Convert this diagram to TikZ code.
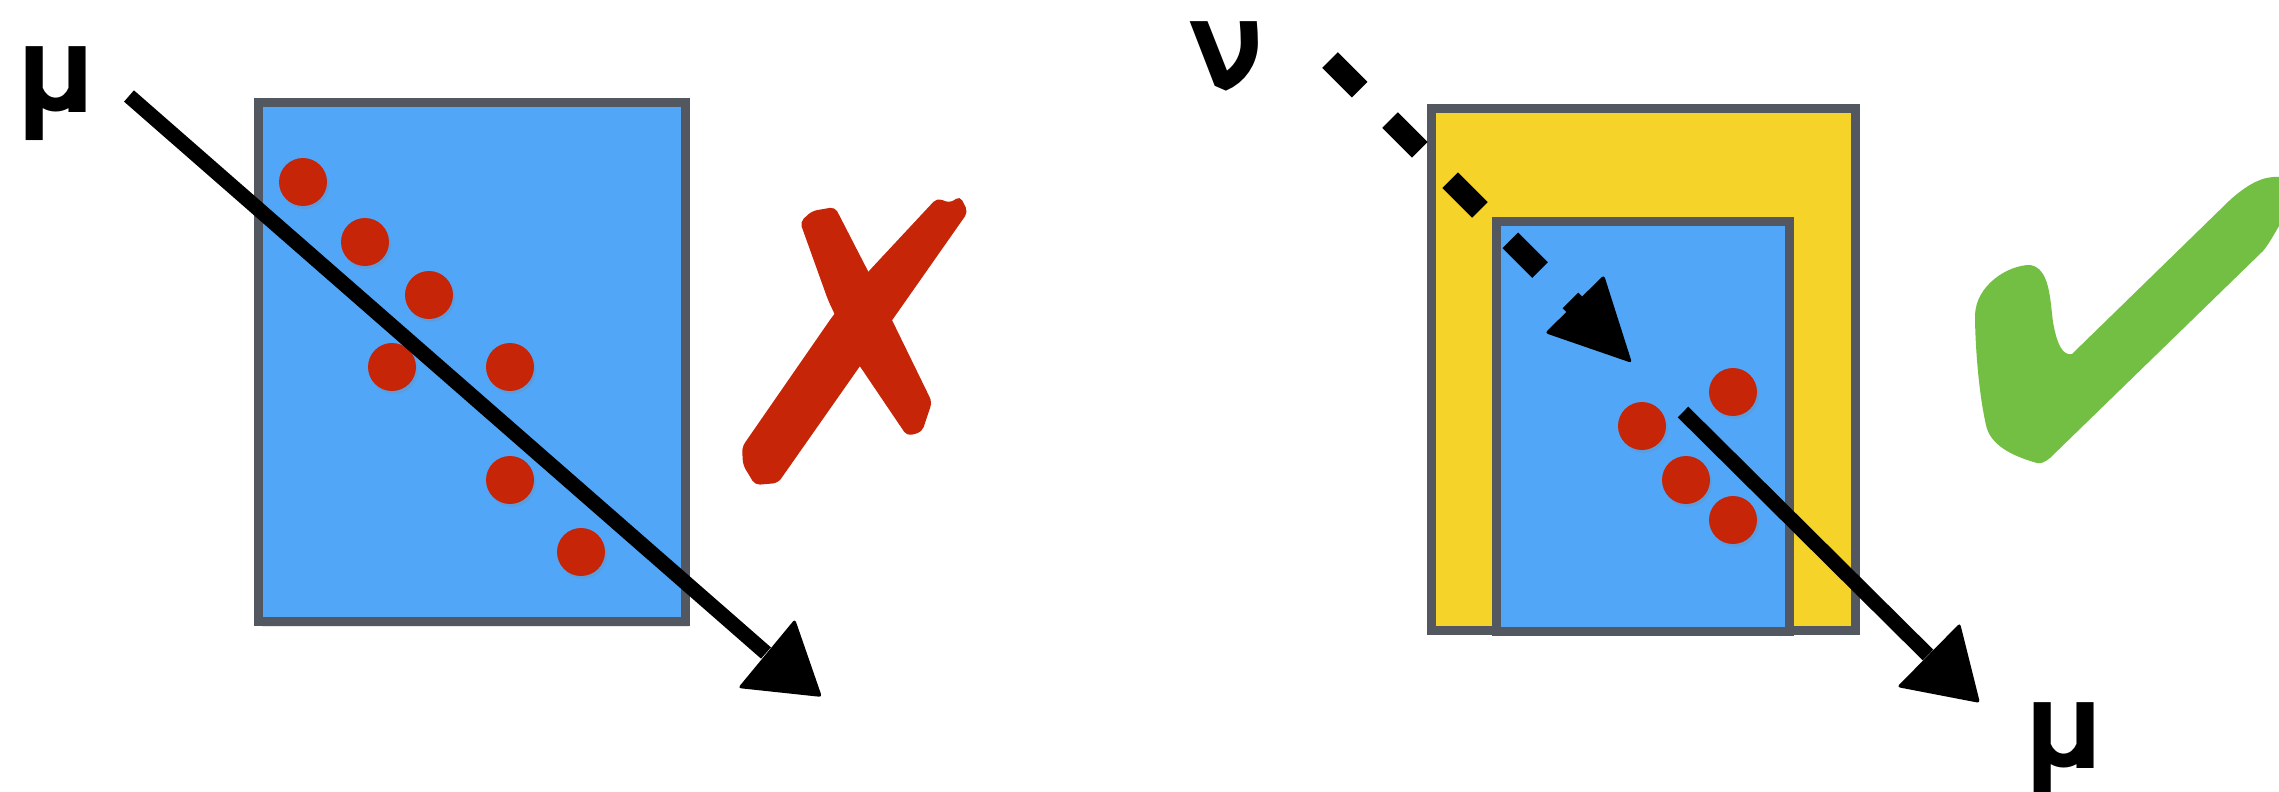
\documentclass[tikz,border=0pt]{standalone}
\usepackage{fontspec}
\setmainfont{TeX Gyre Heros}
\usetikzlibrary{shadows}
\definecolor{boxblue}{HTML}{51A6F8}
\definecolor{boxgray}{HTML}{535860}
\definecolor{boxyellow}{HTML}{F5D328}
\definecolor{dotred}{HTML}{C72508}
\definecolor{checkgreen}{HTML}{72BF44}
\begin{document}
\begin{tikzpicture}[x=1pt,y=-1pt,
  panel/.style={draw=boxgray, line width=9pt, inner sep=0pt,
    drop shadow={opacity=0.18, shadow xshift=3pt, shadow yshift=-5pt}},
  dot/.style={circle, fill=dotred, minimum size=48pt, inner sep=0pt,
    drop shadow={opacity=0.2, shadow xshift=2pt, shadow yshift=-3pt}},
  arrowline/.style={draw=black, line width=15pt},
  dashline/.style={draw=black, line width=22pt, dash pattern=on 42pt off 43pt},
  arrowhead/.style={fill=black, rounded corners=3pt},
  lbl/.style={font=\bfseries\fontsize{122}{122}\selectfont, inner sep=0pt, anchor=base}
]
\useasboundingbox (0,0) rectangle (2279,792);

% ---------- left panel ----------
\node[panel, fill=boxblue, minimum width=427pt, minimum height=519pt] (lbox) at (472,362) {};
\node[dot] (l1) at (303,182) {};
\node[dot] (l2) at (365,242) {};
\node[dot] (l3) at (429,295) {};
\node[dot] (l4) at (392,367) {};
\node[dot] (l5) at (510,367) {};
\node[dot] (l6) at (510,480) {};
\node[dot] (l7) at (581,552) {};

\coordinate (las) at (129,96);
\coordinate (lab) at (766,653);
\coordinate (lat) at (822,697);
\coordinate (lac1) at (795,619);
\coordinate (lac2) at (738,688);
\draw[arrowline] (las) -- (lab);
\fill[arrowhead] (lat) -- (lac1) -- (lac2) -- cycle;

% red cross
\fill[dotred, rounded corners=5pt] (800,222) -- (812,211) -- (835,207) -- (870,275)
  -- (932,402) -- (922,432) -- (907,436) -- (857,362) -- (828,300) -- cycle;
\fill[dotred, rounded corners=5pt] (937,198) -- (950,203) -- (960,196) -- (968,212)
  -- (778,483) -- (755,485) -- (743,465) -- (742,447) -- (832,317) -- (868,272) -- cycle;

\node[lbl] (mu1) at (56,112) {μ};

% ---------- right panel ----------
\node[panel, fill=boxyellow, minimum width=424pt, minimum height=522pt] (ybox) at (1643,369) {};
\node[panel, fill=boxblue, minimum width=293pt, minimum height=410pt] (rbox) at (1642.5,426) {};
\node[dot] (r1) at (1733,392) {};
\node[dot] (r2) at (1642,426) {};
\node[dot] (r3) at (1686,480) {};
\node[dot] (r4) at (1733,520) {};

\coordinate (ras) at (1683,412);
\coordinate (rab) at (1928,655);
\coordinate (rat) at (1980,703);
\coordinate (rac1) at (1960,623);
\coordinate (rac2) at (1897,687);
\draw[arrowline] (ras) -- (rab);
\fill[arrowhead] (rat) -- (rac1) -- (rac2) -- cycle;

\coordinate (das) at (1330,60);
\coordinate (dae) at (1590,320);
\coordinate (dat) at (1632,363);
\coordinate (dac1) at (1604,275);
\coordinate (dac2) at (1545,333);
\draw[dashline] (das) -- (dae);
\fill[arrowhead] (dat) -- (dac1) -- (dac2) -- cycle;

% green check mark
\fill[checkgreen] (2037,463) .. controls (2012,456) and (1990,445) .. (1986,425)
  .. controls (1978,390) and (1975,340) .. (1975,315)
  .. controls (1976,285) and (2008,265) .. (2030,265)
  .. controls (2050,268) and (2050,300) .. (2053,322)
  .. controls (2057,345) and (2063,356) .. (2072,354)
  -- (2230,200) .. controls (2250,182) and (2265,176) .. (2279,177)
  -- (2279,226) .. controls (2272,238) and (2268,245) .. (2263,251)
  -- (2050,458) .. controls (2045,462) and (2041,464) .. (2037,463) -- cycle;

\node[lbl] (nu) at (1224,88) {ν};
\node[lbl] (mu2) at (2064,768) {μ};
\end{tikzpicture}
\end{document}
